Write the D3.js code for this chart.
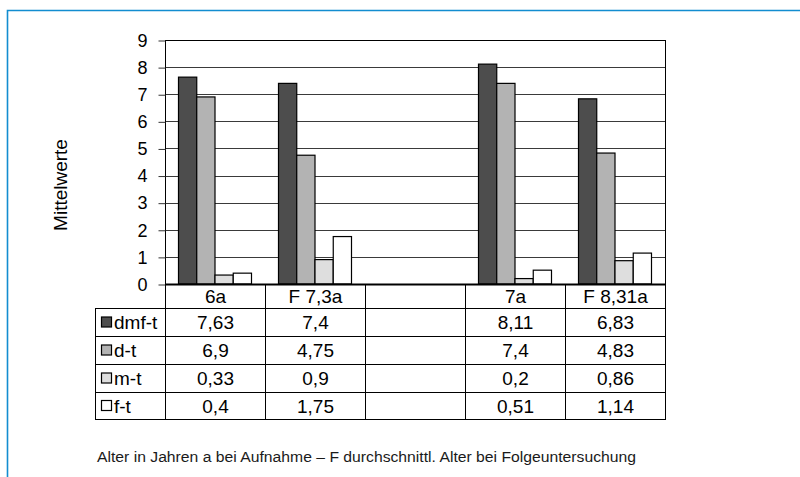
<!DOCTYPE html>
<html>
<head>
<meta charset="utf-8">
<script src="https://cdn.jsdelivr.net/npm/d3@7"></script>
<style>
  html, body { margin: 0; padding: 0; background: #fff; }
  svg { display: block; }
</style>
</head>
<body>
<svg id="chart" width="800" height="477"></svg>
<script>
// Category columns (one slot is intentionally empty)
const categories = ["6a", "F 7,3a", "", "7a", "F 8,31a"];
const seriesNames = ["dmf-t", "d-t", "m-t", "f-t"];
const seriesColors = ["#4d4d4d", "#b3b3b3", "#dedede", "#ffffff"];
const dmft = [7.63, 7.4, null, 8.11, 6.83];
const dt   = [6.9, 4.75, null, 7.4, 4.83];
const mt   = [0.33, 0.9, null, 0.2, 0.86];
const ft   = [0.4, 1.75, null, 0.51, 1.14];
const yTicks = [0, 1, 2, 3, 4, 5, 6, 7, 8, 9];
const yTitle = "Mittelwerte";
const footnote = "Alter in Jahren a bei Aufnahme \u2013 F durchschnittl. Alter bei Folgeuntersuchung";

const seriesValues = [dmft, dt, mt, ft];

const de = d3.formatLocale({ decimal: ",", thousands: ".", grouping: [3], currency: ["", " €"] });
const fmt = v => de.format("~g")(v);

const svg = d3.select("#chart");
const FONT = "'Liberation Sans', Arial, sans-serif";

// Outer blue frame (top and left edges)
svg.append("path")
  .attr("d", "M7.5,477 V10.5 H800")
  .attr("fill", "none")
  .attr("stroke", "#128dd0")
  .attr("stroke-width", 1.6);

const plot = { left: 165, right: 665, top: 40, bottom: 284 };

const x = d3.scaleBand().domain(d3.range(categories.length)).range([plot.left, plot.right]).padding(0);
const xs = d3.scaleBand().domain(seriesNames).range([13.5, 86.5]).padding(0);
const y = d3.scaleLinear().domain([0, 9]).range([plot.bottom, plot.top]);

// Gridlines
svg.append("g")
  .selectAll("line")
  .data(yTicks.filter(t => t > 0))
  .join("line")
  .attr("x1", plot.left).attr("x2", plot.right)
  .attr("y1", d => Math.round(y(d)) + 0.5).attr("y2", d => Math.round(y(d)) + 0.5)
  .attr("stroke", d => d === 9 ? "#000" : "#3a3a3a")
  .attr("stroke-width", 1);

// Right border of plot
svg.append("line")
  .attr("x1", plot.right + 0.5).attr("x2", plot.right + 0.5)
  .attr("y1", plot.top).attr("y2", plot.bottom)
  .attr("stroke", "#000");

// Y axis
const yAxis = d3.axisLeft(y).tickValues(yTicks).tickSize(7).tickPadding(11).tickFormat(d3.format("d"));
const yg = svg.append("g").attr("transform", `translate(${plot.left + 0.5},0.5)`).call(yAxis);
yg.select(".domain").attr("stroke", "#000").attr("d", `M0,${plot.top}V${plot.bottom}`);
yg.selectAll(".tick line").attr("stroke", "#333");
yg.selectAll(".tick text").attr("font-family", FONT).attr("font-size", 18).attr("fill", "#000");

// Y title
svg.append("text")
  .attr("transform", `translate(67,185) rotate(-90)`)
  .attr("text-anchor", "middle")
  .attr("font-family", FONT)
  .attr("font-size", 19)
  .text(yTitle);

// Bars
const barData = [];
seriesNames.forEach((s, si) => {
  seriesValues[si].forEach((v, ci) => {
    if (v != null) barData.push({ s, si, ci, v });
  });
});
svg.append("g")
  .selectAll("rect")
  .data(barData)
  .join("rect")
  .attr("x", d => x(d.ci) + xs(d.s))
  .attr("width", xs.bandwidth())
  .attr("y", d => y(d.v))
  .attr("height", d => plot.bottom - y(d.v))
  .attr("fill", d => seriesColors[d.si])
  .attr("stroke", "#000")
  .attr("stroke-width", 1.2);

// Data table
const tableLeft = 95;
const rowEdges = [284, 308, 336, 364, 392, 419];
const tg = svg.append("g");

// Horizontal rules (header row spans only the category columns)
rowEdges.forEach((ry, i) => {
  tg.append("line")
    .attr("x1", i === 0 ? plot.left : tableLeft)
    .attr("x2", plot.right + 1)
    .attr("y1", ry + 0.5).attr("y2", ry + 0.5)
    .attr("stroke", "#000")
    .attr("stroke-width", i === 0 ? 2 : 1);
});
// Vertical rules
d3.range(categories.length + 1).forEach(i => {
  const vx = plot.left + i * x.bandwidth();
  tg.append("line")
    .attr("x1", vx + 0.5).attr("x2", vx + 0.5)
    .attr("y1", rowEdges[0]).attr("y2", rowEdges[5] + 1)
    .attr("stroke", "#000");
});
tg.append("line")
  .attr("x1", tableLeft + 0.5).attr("x2", tableLeft + 0.5)
  .attr("y1", rowEdges[1]).attr("y2", rowEdges[5] + 1)
  .attr("stroke", "#000");

const TFS = 19;
// Category header labels
tg.selectAll("text.cat")
  .data(categories)
  .join("text")
  .attr("class", "cat")
  .attr("x", (d, i) => x(i) + x.bandwidth() / 2 + 0.5)
  .attr("y", (rowEdges[0] + rowEdges[1]) / 2 + 7)
  .attr("text-anchor", "middle")
  .attr("font-family", FONT)
  .attr("font-size", TFS)
  .text(d => d);

// Series rows
seriesNames.forEach((s, si) => {
  const top = rowEdges[si + 1], bot = rowEdges[si + 2];
  const cy = (top + bot) / 2;
  tg.append("rect")
    .attr("x", 101.5).attr("y", cy - 5)
    .attr("width", 10).attr("height", 10)
    .attr("fill", seriesColors[si])
    .attr("stroke", "#000")
    .attr("stroke-width", 1.2);
  tg.append("text")
    .attr("x", 114).attr("y", cy + 7)
    .attr("font-family", FONT).attr("font-size", TFS)
    .text(s);
  seriesValues[si].forEach((v, ci) => {
    if (v == null) return;
    tg.append("text")
      .attr("x", x(ci) + x.bandwidth() / 2 + 0.5)
      .attr("y", cy + 7)
      .attr("text-anchor", "middle")
      .attr("font-family", FONT).attr("font-size", TFS)
      .text(fmt(v));
  });
});

// Footnote
svg.append("text")
  .attr("x", 97).attr("y", 462)
  .attr("font-family", FONT)
  .attr("font-size", 14)
  .attr("textLength", 539)
  .attr("lengthAdjust", "spacingAndGlyphs")
  .attr("fill", "#1a1a1a")
  .text(footnote);
</script>
</body>
</html>
